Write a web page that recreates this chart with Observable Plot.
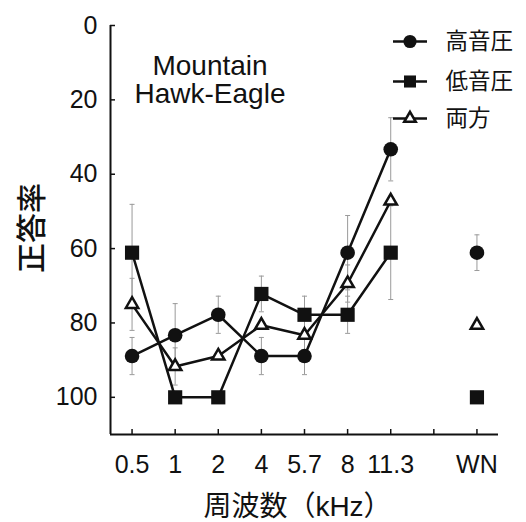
<!DOCTYPE html>
<html><head><meta charset="utf-8">
<script src="https://cdn.jsdelivr.net/npm/d3@7"></script>
<script src="https://cdn.jsdelivr.net/npm/@observablehq/plot@0.6"></script>
<style>
html,body{margin:0;padding:0;background:#fff;}
#chart{width:526px;height:522px;}
</style></head><body><div id="chart"></div>
<script>
// ---- data ----
const tickLabels = ["0.5", "1", "2", "4", "5.7", "8", "11.3", "", "WN"];
const freqs = ["0.5", "1", "2", "4", "5.7", "8", "11.3"];
const yTicks = [0, 20, 40, 60, 80, 100];

const seriesNames = ["高音圧", "低音圧", "両方"];
const highVals = [88.9, 83.3, 77.8, 88.9, 88.9, 61.1, 33.3];
const lowVals  = [61.1, 100, 100, 72.2, 77.8, 77.8, 61.1];
const bothVals = [75.0, 91.7, 88.9, 80.6, 83.3, 69.4, 47.2];
const highWN = 61.1, lowWN = 100, bothWN = 80.6;

const highErr = [5, 8.5, 5, 5, 5, 10, 8.5];
const lowErr  = [13, null, null, 4.8, 5, 5, 12.6];
const bothErr = [7, 5, null, null, null, 5, null];
const highWNErr = 4.8, lowWNErr = null, bothWNErr = null;

const speciesLabel = "Mountain\nHawk-Eagle";
const xTitle = "周波数（kHz）";
const yTitle = "正答率";

// ---- build table ----
const series = [
  {key: "high", values: highVals, wn: highWN, err: highErr, wnErr: highWNErr},
  {key: "low", values: lowVals, wn: lowWN, err: lowErr, wnErr: lowWNErr},
  {key: "both", values: bothVals, wn: bothWN, err: bothErr, wnErr: bothWNErr}
];
const rows = [];
series.forEach(s => {
  freqs.forEach((f, i) => rows.push({series: s.key, cat: f, v: s.values[i], e: s.err[i], line: true}));
  rows.push({series: s.key, cat: "WN", v: s.wn, e: s.wnErr, line: false});
});
const xi = d => tickLabels.indexOf(d.cat);
const errRows = rows.filter(d => d.e != null);
const capRows = errRows.flatMap(d => [{cat: d.cat, y: d.v - d.e}, {cat: d.cat, y: d.v + d.e}]);

const hline = {draw(ctx, size) { const w = Math.sqrt(size / Math.PI); ctx.moveTo(-w, 0); ctx.lineTo(w, 0); }};
const ink = "#111";
const font = '"Liberation Sans", "Noto Sans CJK JP", sans-serif';

const legendItems = [
  {name: seriesNames[0], symbol: "circle", r: 6.6, fill: ink, stroke: "none", dy: 16},
  {name: seriesNames[1], symbol: "square", r: 6.8, fill: ink, stroke: "none", dy: 56},
  {name: seriesNames[2], symbol: "triangle", r: 4.3, fill: "#fff", stroke: ink, dy: 93}
];
const legendMarks = legendItems.flatMap(it => [
  Plot.dot([0], {frameAnchor: "top-left", dx: 299.5, dy: it.dy, symbol: hline, r: 17, stroke: ink, strokeWidth: 2.5, fill: "none"}),
  Plot.dot([0], {frameAnchor: "top-left", dx: 299.5, dy: it.dy, symbol: it.symbol, r: it.r, fill: it.fill, stroke: it.stroke, strokeWidth: 2.5}),
  Plot.text([it.name], {frameAnchor: "top-left", dx: 335, dy: it.dy, text: d => d, textAnchor: "start", lineAnchor: "middle", fontSize: 22.5, fill: ink})
]);

const chart = Plot.plot({
  width: 526, height: 522,
  marginLeft: 110, marginRight: 28, marginTop: 25, marginBottom: 88,
  style: {fontFamily: font, background: "#fff", color: ink},
  x: {type: "linear", domain: [-0.5, 8.5]},
  y: {domain: [0, 110], reverse: true},
  marks: [
    Plot.ruleX(errRows, {x: xi, y1: d => d.v - d.e, y2: d => d.v + d.e, stroke: "#9a9a9a", strokeWidth: 1}),
    Plot.dot(capRows, {x: xi, y: "y", symbol: hline, r: 2.5, stroke: "#9a9a9a", strokeWidth: 1, fill: "none"}),
    Plot.axisY({ticks: yTicks, tickSize: -5, tickPadding: 18, fontSize: 25, strokeWidth: 1.5, label: null}),
    Plot.axisX({ticks: d3.range(tickLabels.length), tickFormat: i => tickLabels[i], tickSize: -5, tickPadding: 26, fontSize: 25, strokeWidth: 1.5, label: null}),
    Plot.ruleY([110], {stroke: ink, strokeWidth: 2}),
    Plot.ruleX([-0.5], {stroke: ink, strokeWidth: 2}),
    Plot.line(rows.filter(d => d.line), {x: xi, y: "v", z: "series", stroke: ink, strokeWidth: 2.5}),
    Plot.dot(rows.filter(d => d.series === "high"), {x: xi, y: "v", symbol: "circle", r: 7.3, fill: ink}),
    Plot.dot(rows.filter(d => d.series === "low"), {x: xi, y: "v", symbol: "square", r: 8, fill: ink}),
    Plot.dot(rows.filter(d => d.series === "both"), {x: xi, y: "v", symbol: "triangle", r: 4.6, fill: "#fff", stroke: ink, strokeWidth: 2.5}),
    Plot.text([speciesLabel], {frameAnchor: "top-left", dx: 99.5, dy: 30, text: d => d, textAnchor: "middle", lineAnchor: "top", lineHeight: 1, fontSize: 28, fill: ink}),
    Plot.text([yTitle], {frameAnchor: "left", dx: -78, dy: -2, rotate: -90, text: d => d, textAnchor: "middle", lineAnchor: "middle", fontSize: 30, fontWeight: 500, fill: ink}),
    Plot.text([xTitle], {frameAnchor: "bottom", dx: -7, dy: 73, text: d => d, textAnchor: "middle", lineAnchor: "middle", fontSize: 28, fill: ink}),
    ...legendMarks
  ]
});
document.getElementById("chart").appendChild(chart);
</script>
</body></html>
